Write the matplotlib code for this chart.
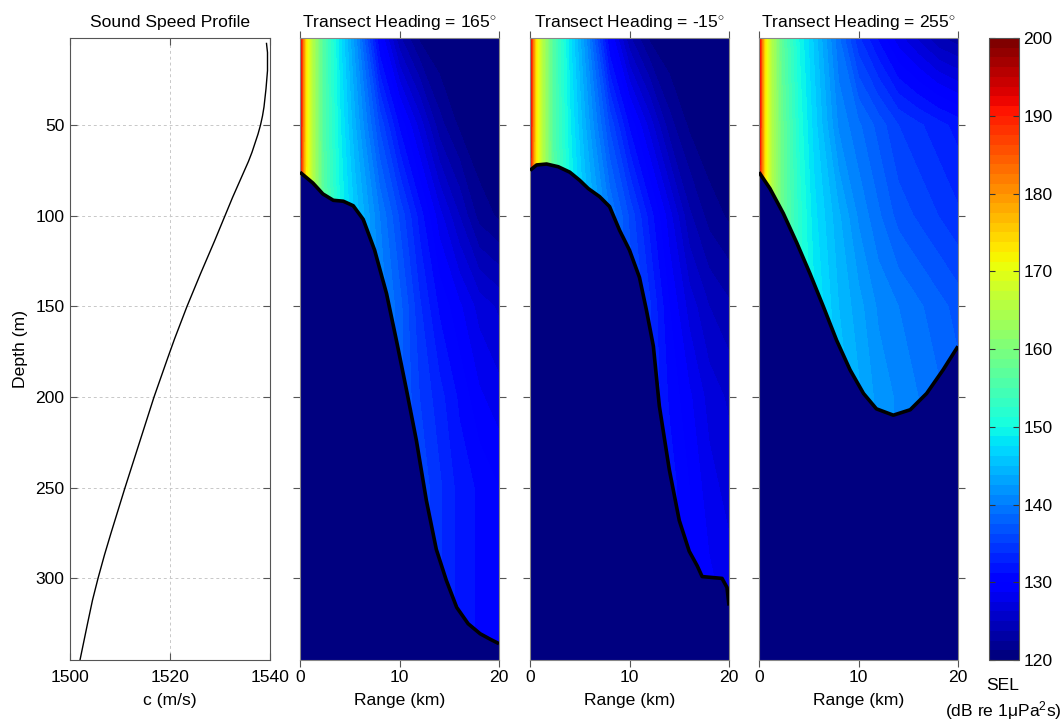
import numpy as np
import matplotlib
matplotlib.use("Agg")
import matplotlib.pyplot as plt

plt.rcParams['font.family'] = ['Liberation Sans', 'DejaVu Sans']
plt.rcParams['mathtext.fontset'] = 'custom'
plt.rcParams['mathtext.rm'] = 'Liberation Sans'
plt.rcParams['mathtext.it'] = 'Liberation Sans:italic'

# ---- sound speed profile ----
ssp_depth = [5, 10, 20, 30, 40, 45, 50, 55, 60, 65, 70, 80, 90, 100, 114, 132, 150, 168,
             178, 200, 225, 250, 275, 287, 300, 312, 325, 345]
ssp_speed = [1539.3, 1539.5, 1539.5, 1539.2, 1538.8, 1538.5, 1538.1, 1537.6, 1537.0, 1536.4,
             1535.7, 1534.1, 1532.5, 1531.0, 1528.9, 1526.1, 1523.4, 1520.9, 1519.6, 1516.8,
             1513.9, 1511.0, 1508.2, 1506.9, 1505.6, 1504.5, 1503.5, 1502.0]

# ---- SEL grid (dB re 1uPa^2 s): rows = depth, columns = range ----
grid_range = [0, 0.3, 0.6, 1.3, 2.3, 4, 5.5, 8, 10, 12, 14, 16, 18, 20]
grid_depth = [2, 50, 100, 150, 200, 250, 300, 345]

sel_165 = [
    [195, 182, 173, 165, 156, 148, 142, 130, 124, 121, 120, 120, 120, 120],
    [195, 182, 173, 165, 156, 149, 144, 136, 131, 127, 123, 121, 120, 120],
    [193, 181, 172, 165, 157, 150, 146, 140, 136, 132, 128, 125, 122, 121],
    [190, 180, 171, 164, 157, 150, 146, 141, 138, 134, 131, 129, 127, 126],
    [188, 179, 170, 163, 156, 150, 146, 141, 138, 135, 133, 131, 129, 128],
    [187, 178, 170, 163, 156, 150, 146, 141, 138, 136, 134, 132, 131, 130],
    [186, 177, 169, 162, 155, 150, 146, 141, 138, 136, 134, 132, 131, 130],
    [186, 177, 169, 162, 155, 150, 146, 141, 138, 136, 134, 132, 131, 130],
]
sel_m15 = [
    [195, 182, 173, 165, 156, 148, 142, 130, 124, 121, 120, 120, 120, 120],
    [195, 182, 173, 165, 156, 149, 144, 136, 131, 127, 123, 121, 120, 120],
    [193, 181, 172, 165, 157, 150, 146, 140, 136, 132, 128, 124, 122, 121],
    [190, 180, 171, 164, 157, 150, 146, 141, 137, 134, 130, 127, 125, 124],
    [188, 179, 170, 163, 156, 150, 146, 141, 137, 134, 131, 129, 127, 126],
    [187, 178, 170, 163, 156, 150, 146, 141, 137, 134, 132, 130, 128, 127],
    [186, 177, 169, 162, 155, 150, 146, 141, 137, 134, 132, 130, 129, 128],
    [186, 177, 169, 162, 155, 150, 146, 141, 137, 134, 132, 130, 129, 128],
]
sel_255 = [
    [195, 182, 173, 165, 157, 150, 146, 139, 134, 131, 128, 126, 124, 123],
    [195, 182, 173, 165, 158, 151, 147, 141, 139, 137, 135, 134, 133, 132],
    [193, 182, 173, 165, 158, 152, 148, 144, 141, 139, 137, 136, 135, 134],
    [190, 181, 172, 165, 158, 152, 149, 145, 143, 141, 140, 139, 138, 137],
    [188, 180, 171, 164, 158, 152, 149, 146, 144, 142, 141, 140, 139, 138],
    [188, 180, 171, 164, 158, 152, 149, 146, 144, 142, 141, 140, 139, 138],
    [188, 180, 171, 164, 158, 152, 149, 146, 144, 142, 141, 140, 139, 138],
    [188, 180, 171, 164, 158, 152, 149, 146, 144, 142, 141, 140, 139, 138],
]

# ---- bathymetry along each transect (range km, depth m) ----
bathy_165_r = [0, 1.3, 2.3, 3.35, 4.35, 5.35, 6.35, 7.5, 8.7, 9.7, 10.7, 11.7, 12.7, 13.7,
               14.7, 15.75, 16.9, 18.1, 19.1, 20]
bathy_165_d = [76, 82, 88, 91.5, 92, 94.5, 102, 119, 143, 169, 196, 224, 257, 284,
               301, 316, 325, 330.5, 333.5, 336]
bathy_m15_r = [0, 0.67, 1.67, 2.84, 4.0, 5.0, 5.85, 7.0, 8.0, 9.0, 10.0, 11.0, 11.7, 12.4,
               13.0, 14.0, 15.0, 16.0, 16.8, 17.3, 19.3, 19.8, 20.0]
bathy_m15_d = [75, 72, 71.5, 73, 76, 80.5, 85, 89.5, 95, 108, 119, 134, 152, 172,
               205, 240, 268, 285, 293, 299, 300, 305, 315]
bathy_255_r = [0, 1.1, 2.44, 3.8, 5.13, 6.46, 7.8, 9.15, 10.5, 11.8, 13.5, 15.2, 16.85, 18.5, 20]
bathy_255_d = [76, 85, 98.7, 115, 132, 150, 168.7, 185, 198, 206.5, 210, 207, 198, 185, 172]

headings = ['165', '-15', '255']
depth_ticks = [50, 100, 150, 200, 250, 300]
range_ticks = [0, 10, 20]
sel_ticks = [120, 130, 140, 150, 160, 170, 180, 190, 200]

W, H = 1064, 721
fig = plt.figure(figsize=(W / 100, H / 100), dpi=100)


def frac(x0, x1, y0, y1):
    return [x0 / W, 1 - y1 / H, (x1 - x0) / W, (y1 - y0) / H]


edge = '#555555'
fs = 12.6
cmap = plt.get_cmap('jet', 64)
levels = np.linspace(120, 200, 65)
navy = cmap(0)
ylim = (345, 2)

# sound speed panel
ax0 = fig.add_axes(frac(70, 270, 38, 660))
ax0.plot(ssp_speed, ssp_depth, color='black', lw=1.0)
ax0.set_xlim(1500, 1540)
ax0.set_ylim(*ylim)
ax0.set_xticks([1500, 1520, 1540])
ax0.set_yticks(depth_ticks)
ax0.grid(True, color='#c8c8c8', linestyle=(0, (3, 3)), lw=0.7)
ax0.tick_params(direction='in', top=True, right=True, length=5, color=edge,
                labelsize=fs, pad=7)
ax0.tick_params(axis='y', pad=4)
for s in ax0.spines.values():
    s.set_color(edge)
ax0.set_title('Sound Speed Profile', fontsize=fs, pad=8)
ax0.set_xlabel('c (m/s)', fontsize=fs, labelpad=6)
ax0.set_ylabel('Depth (m)', fontsize=fs, labelpad=5)

panels = [
    (300, 499, sel_165, bathy_165_r, bathy_165_d),
    (530, 729, sel_m15, bathy_m15_r, bathy_m15_d),
    (759, 958, sel_255, bathy_255_r, bathy_255_d),
]
cs = None
for (x0, x1, sel, br, bd), hd in zip(panels, headings):
    ax = fig.add_axes(frac(x0, x1, 38, 660))
    cs = ax.contourf(grid_range, grid_depth, np.array(sel, dtype=float),
                     levels=levels, cmap=cmap, vmin=120, vmax=200)
    ax.fill_between(br, bd, 400, color=navy, lw=0, zorder=2)
    ax.plot(br, bd, color='black', lw=2.6, zorder=3, solid_capstyle='butt')
    ax.set_xlim(0, 20)
    ax.set_ylim(*ylim)
    ax.set_xticks(range_ticks)
    ax.set_yticks(depth_ticks)
    ax.tick_params(direction='out', top=True, right=True, length=5, color=edge,
                   labelleft=False, labelsize=fs, pad=2)
    for s in ax.spines.values():
        s.set_color('#888888')
    ax.set_title('Transect Heading = ' + hd + r'$^{\circ}$', fontsize=fs, pad=8)
    ax.set_xlabel('Range (km)', fontsize=fs, labelpad=6)

cax = fig.add_axes(frac(989, 1019, 38, 660))
cb = fig.colorbar(cs, cax=cax, ticks=sel_ticks)
cb.outline.set_edgecolor(edge)
cax.tick_params(direction='in', left=True, right=True, length=4, color='#333333',
                labelsize=fs, pad=3)
cax.set_ylim(120, 200)
fig.text(1003 / W, 1 - 686 / H, 'SEL', ha='center', va='center', fontsize=fs)
fig.text(1003 / W, 1 - 711 / H, r'(dB re 1μPa$^{2}$s)', ha='center', va='center', fontsize=fs)

fig.savefig('out.png', dpi=100)
